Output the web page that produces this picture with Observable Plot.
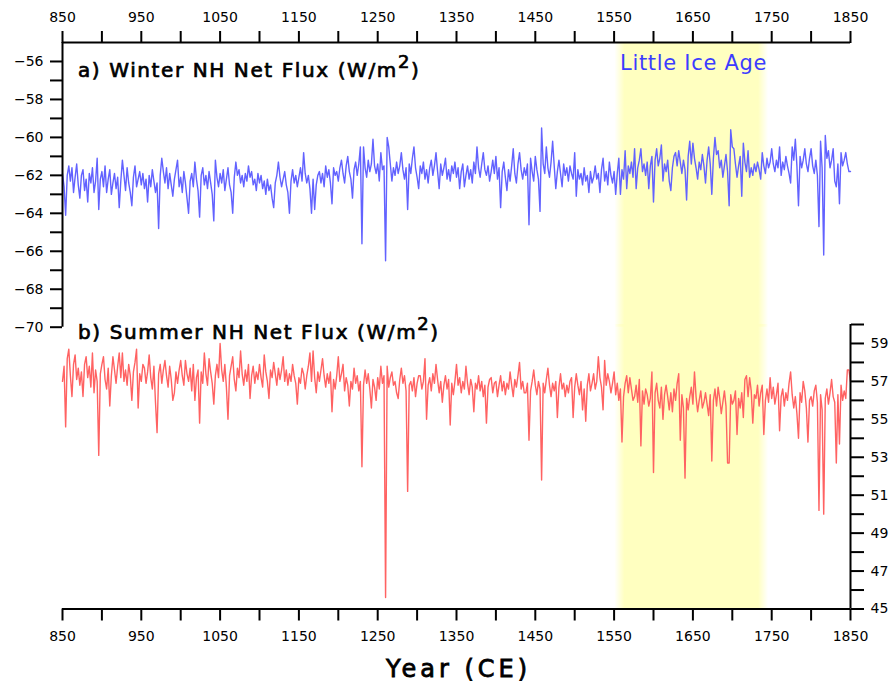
<!DOCTYPE html>
<html><head><meta charset="utf-8">
<script src="https://cdn.jsdelivr.net/npm/d3@7"></script>
<script src="https://cdn.jsdelivr.net/npm/@observablehq/plot@0.6"></script>
<style>
body{margin:0;background:#fff;}
#chart{position:relative;width:890px;height:686px;font-family:"DejaVu Sans",sans-serif;overflow:hidden;}
#chart svg{position:absolute;left:0;top:0;}
.lbl{position:absolute;white-space:nowrap;line-height:1;color:#000;}
.ttl{font-weight:normal;font-size:20px;letter-spacing:1.6px;-webkit-text-stroke:0.7px #000;}
.sup{font-size:18px;position:relative;top:-9px;}
</style></head><body>
<div id="chart"></div>
<script>
// ---- data (values every 2 years, 850..1850) ----
const startYear = 850;
const yearStep = 2;
const winterFlux = [
/*850*/ -61.9,-62.6,-64.1,-62.0,-61.5,-62.3,-61.6,-62.9,-62.1,-61.4,-62.5,-63.2,-62.0,-61.7,-62.8,-62.2,-63.4,-61.9,-62.4,-61.6,-62.9,-62.3,-61.1,-63.8,-62.2,
/*900*/ -61.8,-62.6,-61.5,-62.9,-62.2,-61.7,-63.0,-62.4,-61.9,-62.7,-62.1,-63.7,-62.3,-61.2,-62.0,-62.8,-61.6,-62.4,-62.9,-63.6,-62.1,-61.5,-62.6,-62.2,-61.8,
/*950*/ -62.5,-61.9,-62.7,-62.2,-63.4,-62.0,-62.6,-61.7,-62.3,-62.9,-62.4,-64.8,-62.0,-61.1,-61.8,-62.4,-61.6,-62.7,-61.9,-62.5,-63.1,-62.2,-61.7,-61.2,-62.6,
/*1000*/ -62.1,-62.9,-61.8,-62.4,-63.2,-64.0,-62.3,-61.9,-62.6,-61.3,-62.2,-62.8,-64.2,-62.0,-61.6,-62.5,-62.0,-62.7,-61.8,-62.4,-63.0,-64.4,-61.2,-62.1,-62.6,
/*1050*/ -61.9,-62.4,-61.7,-62.8,-62.2,-61.6,-62.5,-62.9,-64.0,-62.1,-61.3,-62.0,-61.7,-62.4,-62.0,-62.6,-61.9,-62.3,-61.5,-62.1,-61.8,-62.5,-62.2,-62.8,-61.9,
/*1100*/ -62.4,-62.0,-62.7,-62.3,-63.0,-62.2,-62.8,-62.5,-63.2,-63.7,-62.4,-62.0,-61.3,-62.1,-62.6,-62.2,-61.8,-62.5,-62.9,-64.0,-62.3,-61.7,-62.4,-62.0,-62.6,
/*1150*/ -62.1,-61.6,-62.3,-60.8,-61.9,-62.4,-62.0,-62.7,-64.0,-62.2,-63.8,-62.5,-62.0,-61.8,-62.4,-61.9,-62.6,-61.5,-62.1,-61.7,-62.4,-63.5,-61.6,-62.0,-61.8,
/*1200*/ -62.3,-61.6,-61.2,-61.9,-62.4,-61.5,-61.0,-61.8,-62.2,-63.2,-61.7,-61.3,-62.0,-61.4,-60.5,-65.6,-60.5,-61.6,-62.1,-61.2,-61.8,-61.4,-60.1,-61.5,-61.9,
/*1250*/ -61.4,-62.3,-60.8,-61.7,-61.5,-66.5,-60.0,-60.5,-61.4,-62.3,-61.6,-62.0,-61.3,-61.9,-61.5,-60.8,-61.7,-62.2,-61.6,-63.8,-61.4,-61.9,-61.1,-60.5,-61.6,
/*1300*/ -62.1,-62.7,-61.5,-61.9,-61.3,-62.2,-61.7,-62.4,-61.6,-61.2,-62.0,-61.5,-60.8,-61.8,-62.7,-61.4,-62.0,-61.6,-61.1,-62.2,-61.7,-62.3,-61.5,-61.9,-61.3,
/*1350*/ -62.1,-61.6,-62.7,-61.8,-61.4,-62.6,-62.0,-61.5,-62.2,-61.7,-62.4,-61.3,-61.9,-60.5,-61.6,-62.1,-61.4,-60.8,-61.7,-62.0,-61.5,-62.3,-61.8,-61.2,-61.9,
/*1400*/ -61.0,-62.2,-61.6,-63.7,-61.8,-61.3,-62.1,-62.8,-61.7,-62.3,-61.5,-60.6,-61.9,-62.4,-61.4,-60.8,-61.7,-62.2,-61.6,-62.0,-61.4,-64.6,-61.1,-61.8,-62.3,
/*1450*/ -61.0,-61.7,-62.2,-63.9,-59.5,-61.4,-61.9,-60.5,-61.6,-62.1,-61.3,-60.2,-61.5,-62.7,-61.8,-61.2,-61.9,-62.6,-61.4,-62.0,-61.6,-62.3,-61.5,-61.9,-62.2,
/*1500*/ -60.8,-63.1,-61.7,-62.2,-61.9,-62.5,-61.6,-62.3,-62.0,-62.9,-61.8,-62.4,-62.1,-61.5,-62.2,-61.9,-62.9,-61.7,-61.1,-62.3,-61.8,-62.5,-61.3,-62.0,-62.4,
/*1550*/ -61.8,-63.0,-61.9,-61.1,-63.0,-61.7,-62.2,-60.7,-62.7,-61.5,-61.9,-61.3,-62.1,-60.6,-62.7,-61.6,-61.2,-60.6,-61.8,-61.4,-62.0,-61.3,-62.7,-61.5,-61.0,
/*1600*/ -63.4,-61.2,-60.6,-61.5,-61.1,-60.4,-62.3,-61.4,-61.8,-61.2,-62.3,-62.8,-61.6,-61.0,-60.8,-61.5,-60.7,-61.3,-61.9,-61.2,-61.7,-63.3,-61.0,-60.2,-61.4,
/*1650*/ -60.3,-61.1,-61.6,-62.2,-61.3,-61.7,-60.9,-61.5,-62.4,-61.2,-60.5,-61.4,-63.0,-61.1,-60.0,-60.9,-60.7,-61.6,-61.2,-62.1,-61.5,-60.9,-61.8,-63.6,-59.6,
/*1700*/ -60.5,-60.6,-61.4,-62.1,-61.5,-61.0,-63.1,-60.3,-61.3,-61.8,-60.7,-62.1,-61.6,-62.0,-61.4,-61.8,-61.3,-61.7,-62.2,-60.8,-61.5,-61.9,-61.1,-61.6,-61.3,
/*1750*/ -60.6,-61.4,-61.8,-61.2,-61.6,-60.5,-62.0,-61.3,-61.7,-61.0,-61.5,-61.9,-62.4,-60.5,-61.2,-60.1,-61.5,-63.6,-61.0,-61.6,-61.2,-60.6,-61.4,-61.8,-61.1,
/*1800*/ -60.6,-61.5,-61.9,-61.2,-62.0,-64.7,-60.2,-61.6,-66.2,-59.9,-61.1,-60.7,-61.6,-61.2,-60.6,-62.3,-62.6,-61.4,-63.5,-60.8,-61.5,-61.2,-60.8,-61.4,-61.8,-61.8
];
const summerFlux = [
/*850*/ 57.0,57.8,54.6,58.2,58.7,57.3,56.2,57.9,58.4,57.1,57.7,56.8,57.5,56.2,57.9,58.3,57.2,57.8,56.7,58.5,56.4,57.6,57.0,53.1,57.4,
/*900*/ 57.9,58.3,57.1,56.6,57.7,55.7,57.3,58.3,57.6,56.9,57.8,58.5,57.2,58.5,57.0,57.6,56.8,57.9,57.3,56.0,57.5,58.0,58.7,55.6,57.4,
/*950*/ 57.0,57.9,57.7,56.9,57.5,58.4,57.2,56.6,57.8,55.9,54.3,57.4,57.9,56.9,57.6,58.1,57.3,56.7,57.8,57.1,56.0,56.4,57.5,56.9,57.6,
/*1000*/ 58.1,57.3,56.8,58.1,57.4,57.0,57.7,56.5,57.9,56.0,57.2,57.6,54.8,57.5,56.9,58.5,57.4,56.8,58.2,57.5,56.9,55.8,57.3,57.9,57.2,
/*1050*/ 59.0,57.6,57.0,57.9,56.7,55.0,57.3,57.8,58.3,57.1,56.5,57.7,57.2,58.6,57.4,56.8,57.6,57.0,57.9,56.1,57.3,57.8,56.9,57.5,57.1,
/*1100*/ 57.9,57.2,56.7,58.4,57.5,57.0,56.1,57.6,57.2,58.0,57.4,56.8,57.7,57.1,57.6,58.3,57.0,57.6,56.8,57.4,57.0,57.9,57.3,56.9,55.8,
/*1150*/ 57.2,56.9,57.7,57.4,56.6,57.3,57.8,58.5,57.0,58.6,57.2,56.4,57.5,57.0,57.6,58.2,57.3,56.7,57.4,56.9,57.5,55.4,57.1,56.6,57.3,
/*1200*/ 58.3,57.0,57.4,57.9,56.5,57.2,56.8,55.7,57.0,56.6,57.7,56.9,57.3,56.5,57.0,52.5,56.8,57.6,56.9,57.4,56.6,55.6,57.1,56.7,56.0,
/*1250*/ 57.2,56.6,57.8,56.9,57.3,45.6,57.8,56.7,57.2,57.5,56.8,57.0,56.4,56.1,57.1,57.7,56.9,57.3,56.5,51.2,56.8,57.0,56.5,57.2,56.2,
/*1300*/ 56.9,57.3,57.3,56.6,57.0,58.2,55.0,56.8,57.2,56.5,57.4,56.9,57.9,57.1,56.4,57.0,55.9,56.8,57.3,56.6,57.1,54.7,56.9,56.3,57.0,
/*1350*/ 57.9,56.8,57.2,56.4,57.0,56.6,57.8,56.9,56.3,57.1,56.7,55.4,56.9,56.6,57.3,56.5,57.0,56.2,56.8,54.8,56.7,57.1,57.2,56.4,56.9,
/*1400*/ 57.0,56.2,56.8,57.3,56.5,57.0,56.3,56.9,56.6,57.5,56.8,56.2,57.1,56.7,57.3,58.0,56.6,57.0,56.4,56.4,56.9,53.9,56.5,57.0,57.6,
/*1450*/ 56.8,56.3,57.0,56.6,51.8,56.9,56.4,57.1,57.7,56.8,56.2,56.9,56.5,57.0,55.1,56.7,57.4,56.6,56.9,56.2,56.8,56.4,57.0,57.2,55.1,
/*1500*/ 56.7,57.4,56.8,56.3,57.0,55.5,56.6,54.9,56.8,57.4,56.5,56.9,57.4,56.6,57.0,58.3,57.2,56.7,55.5,58.1,56.8,57.4,57.0,56.4,56.9,
/*1550*/ 57.5,56.3,56.9,56.0,56.6,53.8,56.2,56.9,57.3,56.4,57.2,56.6,56.0,56.2,56.8,55.9,57.1,53.6,56.5,55.8,56.6,56.3,55.7,56.1,57.5,
/*1600*/ 52.2,56.4,56.9,56.0,55.6,56.7,55.0,56.3,56.8,56.2,55.5,56.4,55.4,56.6,56.0,56.9,57.4,53.9,56.3,55.6,51.9,56.1,55.5,56.2,56.7,
/*1650*/ 55.8,57.5,56.2,55.4,56.0,56.5,55.6,55.9,56.4,55.8,55.2,56.3,52.8,56.0,56.6,55.7,56.7,56.1,55.3,55.9,56.5,55.7,52.7,52.7,56.3,
/*1700*/ 55.8,56.0,56.5,54.2,56.1,55.6,56.4,55.1,57.1,57.3,56.2,57.2,56.5,54.8,56.3,56.1,56.8,55.7,56.4,56.8,54.2,56.0,56.6,55.9,57.2,
/*1750*/ 56.1,56.7,55.8,56.3,56.9,54.4,56.2,56.6,55.7,56.4,56.0,56.9,57.5,56.3,55.6,56.2,55.3,54.0,56.4,55.9,57.0,56.5,55.6,53.8,56.0,
/*1800*/ 56.2,55.7,56.5,56.8,55.9,50.2,56.3,55.5,50.0,56.1,56.6,55.8,56.4,57.1,56.2,55.9,52.7,56.3,53.7,56.8,56.0,56.5,56.1,57.6,57.6,57.0
];
const xTicks = [850,900,950,1000,1050,1100,1150,1200,1250,1300,1350,1400,1450,1500,1550,1600,1650,1700,1750,1800,1850];
const xTickLabels = [850,950,1050,1150,1250,1350,1450,1550,1650,1750,1850];
const winterTicks = [-70,-69,-68,-67,-66,-65,-64,-63,-62,-61,-60,-59,-58,-57,-56];
const winterTickLabels = [-70,-68,-66,-64,-62,-60,-58,-56];
const summerTicks = [45,46,47,48,49,50,51,52,53,54,55,56,57,58,59,60];
const summerTickLabels = [45,47,49,51,53,55,57,59];
const liaPeriod = [{start:1551, end:1746}];

// ---- build ----
const winterRows = winterFlux.map((v,i)=>({year:startYear+i*yearStep, value:v}));
const summerRows = summerFlux.map((v,i)=>({year:startYear+i*yearStep, value:v}));
const W = 890, H = 686;
const base = {
  width: W, height: H, marginLeft: 62, marginRight: 40,
  style: {background:"transparent", fontFamily:"DejaVu Sans, sans-serif", fontSize:"14px", color:"#000", overflow:"visible"},
  x: {domain:[850,1850]}
};
const axisStyle = {stroke:"#000", strokeWidth:2, fill:"#000", label:null, fontSize:14, fontFamily:"DejaVu Sans, sans-serif"};

const topPlot = Plot.plot({
  ...base, marginTop: 42, marginBottom: H - 326.7,
  y: {domain:[-70,-55]},
  marks: [
    Plot.rect(liaPeriod, {x1:"start", x2:"end", fill:"url(#liaA)"}),
    Plot.line(winterRows, {x:"year", y:"value", stroke:"#6262ff", strokeWidth:1.4}),
    Plot.ruleY([-55], {stroke:"#000", strokeWidth:2}),
    Plot.ruleX([850], {stroke:"#000", strokeWidth:2}),
    Plot.axisX({...axisStyle, anchor:"top", ticks:xTicks, tickSize:12, tickPadding:9,
      tickFormat:d => xTickLabels.includes(d) ? String(d) : ""}),
    Plot.axisY({...axisStyle, anchor:"left", ticks:winterTicks, tickSize:12, tickPadding:7,
      tickFormat:d => winterTickLabels.includes(d) ? "\u2212" + Math.abs(d) : ""})
  ]
});
const bottomPlot = Plot.plot({
  ...base, marginTop: 324, marginBottom: H - 608.5,
  y: {domain:[45,60]},
  marks: [
    Plot.rect(liaPeriod, {x1:"start", x2:"end", fill:"url(#liaB)"}),
    Plot.line(summerRows, {x:"year", y:"value", stroke:"#ff6262", strokeWidth:1.4}),
    Plot.ruleY([45], {stroke:"#000", strokeWidth:2}),
    Plot.ruleX([1850], {stroke:"#000", strokeWidth:2}),
    Plot.axisX({...axisStyle, anchor:"bottom", ticks:xTicks, tickSize:12, tickPadding:10,
      tickFormat:d => xTickLabels.includes(d) ? String(d) : ""}),
    Plot.axisY({...axisStyle, anchor:"right", ticks:summerTicks, tickSize:13, tickPadding:7,
      tickFormat:d => summerTickLabels.includes(d) ? String(d) : ""})
  ]
});
function addGradient(svg, id){
  const ns = "http://www.w3.org/2000/svg";
  const defs = document.createElementNS(ns,"defs");
  const g = document.createElementNS(ns,"linearGradient");
  g.setAttribute("id", id); g.setAttribute("x1","0"); g.setAttribute("x2","1"); g.setAttribute("y1","0"); g.setAttribute("y2","0");
  [[0,0],[0.065,1],[0.935,1],[1,0]].forEach(([o,a])=>{
    const s = document.createElementNS(ns,"stop");
    s.setAttribute("offset", o); s.setAttribute("stop-color","#ffffc0"); s.setAttribute("stop-opacity", a);
    g.appendChild(s);
  });
  defs.appendChild(g);
  svg.insertBefore(defs, svg.firstChild);
}
addGradient(topPlot, "liaA");
addGradient(bottomPlot, "liaB");
const chart = document.getElementById("chart");
chart.appendChild(topPlot);
chart.appendChild(bottomPlot);
function addLabel(html, cls, left, top, extra){
  const d = document.createElement("div");
  d.className = "lbl " + cls;
  d.innerHTML = html;
  d.style.left = left + "px"; d.style.top = top + "px";
  if (extra) Object.assign(d.style, extra);
  chart.appendChild(d);
}
addLabel('a) Winter NH Net Flux (W/m<span class="sup">2</span>)', "ttl", 78, 59.5);
addLabel('b) Summer NH Net Flux (W/m<span class="sup">2</span>)', "ttl", 78, 321.5);
addLabel('Little Ice Age', "", 620, 53, {fontSize:"21px", color:"#3c3cff", letterSpacing:"0.7px"});
addLabel('Year (CE)', "", 386, 657, {fontSize:"24px", letterSpacing:"4px", webkitTextStroke:"0.8px #000"});
</script>
</body></html>
